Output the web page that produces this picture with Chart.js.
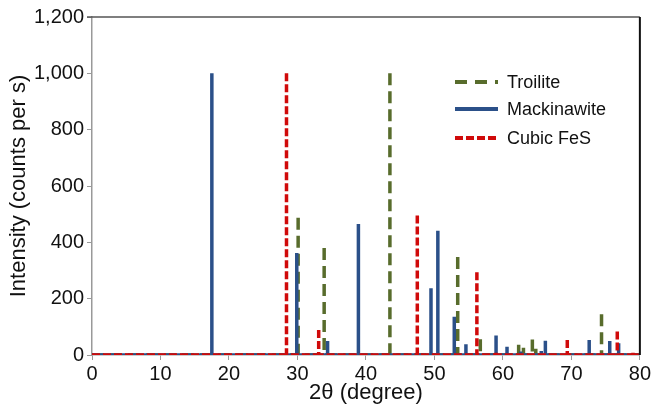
<!DOCTYPE html>
<html>
<head>
<meta charset="utf-8">
<script src="https://cdn.jsdelivr.net/npm/chart.js@4.4.0/dist/chart.umd.min.js"></script>
<style>
  html, body { margin: 0; padding: 0; background: #fff; }
  #wrap { width: 653px; height: 408px; }
</style>
</head>
<body>
<div id="wrap"><canvas id="xrd" width="653" height="408"></canvas></div>
<script>
// Reference stick patterns, 2theta (degree) and intensity (counts per s)
const troiliteTheta = [30.1, 33.9, 43.5, 53.4, 56.7, 62.3, 63.0, 64.3, 64.8, 74.4];
const troiliteIntensity = [487, 380, 1000, 348, 56, 36, 26, 55, 22, 145];

const mackinawiteTheta = [17.5, 29.9, 34.4, 38.9, 49.5, 50.5, 52.9, 54.6, 59.0, 60.6, 62.6, 65.6, 66.2, 72.6, 75.6, 76.9];
const mackinawiteIntensity = [1000, 362, 50, 465, 237, 441, 136, 38, 69, 29, 12, 14, 51, 53, 50, 42];

const cubicTheta = [28.4, 33.1, 47.5, 56.2, 59.0, 69.4, 76.7, 79.0];
const cubicIntensity = [1000, 89, 495, 294, 8, 53, 83, 8];

const thetaRange = [0, 80];
const xTicks = [0, 10, 20, 30, 40, 50, 60, 70, 80];
const yTicks = [0, 200, 400, 600, 800, 1000, 1200];

const seriesNames = ['Troilite', 'Mackinawite', 'Cubic FeS'];
const green = '#586c2c';
const blue = '#2b5089';
const red = '#d00a0a';

// turn a list of peaks into one continuous line: baseline, up to the peak, back down
function sticks(theta, intensity) {
    let pts = [{ x: thetaRange[0], y: 0 }];
    theta.forEach((t, i) => {
        pts.push({ x: t, y: 0 });
        pts.push({ x: t, y: intensity[i] });
        pts.push({ x: t, y: 0 });
    });
    pts.push({ x: thetaRange[1], y: 0 });
    return pts;
}

// the climb and the descent retrace each other; only stroke the descent so
// the dash pattern starts at the top of every stick
const onlyDown = {
    borderColor: ctx => ctx.p0.parsed.y < ctx.p1.parsed.y ? 'rgba(0,0,0,0)' : undefined
};

const lineDashes = [[12, 6], [], [8, 3]];
const legendDashes = [[12, 8, 12, 8, 3, 8], [], [8, 3]];
const colors = [green, blue, red];

// legend drawn by hand so the line samples keep their dash patterns
const legendLines = {
    id: 'legendLines',
    afterDraw(chart) {
        const ctx = chart.ctx;
        const rows = [82, 109, 138];
        ctx.save();
        seriesNames.forEach((name, i) => {
            ctx.beginPath();
            ctx.setLineDash(legendDashes[i]);
            ctx.lineWidth = 4;
            ctx.strokeStyle = colors[i];
            ctx.moveTo(455, rows[i]);
            ctx.lineTo(498, rows[i]);
            ctx.stroke();
            ctx.setLineDash([]);
            ctx.fillStyle = '#111';
            ctx.font = '18px "Liberation Sans", Arial, sans-serif';
            ctx.textBaseline = 'middle';
            ctx.fillText(name, 507, rows[i] + 1);
        });
        ctx.restore();
    }
};

// top and right edges of the plot frame
const frame = {
    id: 'frame',
    afterDraw(chart) {
        const a = chart.chartArea;
        const ctx = chart.ctx;
        ctx.save();
        ctx.lineWidth = 1.5;
        ctx.strokeStyle = '#555';
        ctx.beginPath();
        ctx.moveTo(a.left - 5, a.top);
        ctx.lineTo(a.right, a.top);
        ctx.stroke();
        ctx.lineWidth = 2;
        ctx.strokeStyle = '#111';
        ctx.beginPath();
        ctx.moveTo(a.right, a.top);
        ctx.lineTo(a.right, a.bottom);
        ctx.stroke();
        ctx.restore();
    }
};

const tickFont = { family: '"Liberation Sans", Arial, sans-serif', size: 20 };
const titleFont = { family: '"Liberation Sans", Arial, sans-serif', size: 22 };

let grafico = new Chart(document.getElementById('xrd'), {
    type: 'line',
    data: {
        datasets: [
            { label: seriesNames[0], data: sticks(troiliteTheta, troiliteIntensity), borderColor: green, borderDash: lineDashes[0], segment: onlyDown, order: 3 },
            { label: seriesNames[1], data: sticks(mackinawiteTheta, mackinawiteIntensity), borderColor: blue, borderDash: lineDashes[1], order: 2 },
            { label: seriesNames[2], data: sticks(cubicTheta, cubicIntensity), borderColor: red, borderDash: lineDashes[2], segment: onlyDown, order: 1 },
        ]
    },
    options: {
        responsive: false,
        animation: false,
        layout: { padding: { top: 17, right: 13, left: 0, bottom: 0 } },
        elements: {
            line: { borderWidth: 3.5, tension: 0, borderJoinStyle: 'bevel', borderCapStyle: 'butt', fill: false },
            point: { radius: 0, hoverRadius: 0 }
        },
        plugins: {
            legend: { display: false },
            tooltip: { enabled: false }
        },
        scales: {
            x: {
                type: 'linear',
                min: thetaRange[0],
                max: thetaRange[1],
                afterFit: s => { s.height = 53; },
                afterBuildTicks: s => { s.ticks = xTicks.map(v => ({ value: v })); },
                ticks: { color: '#111', font: tickFont, padding: 2, maxRotation: 0 },
                grid: { drawOnChartArea: false, drawTicks: true, tickLength: 5, color: '#999' },
                border: { color: '#999', width: 1.5 },
                title: { display: true, text: '2θ (degree)', color: '#111', font: titleFont, padding: { top: 0, bottom: 2 } }
            },
            y: {
                min: 0,
                max: 1200,
                afterFit: s => { s.width = 92; },
                afterBuildTicks: s => { s.ticks = yTicks.map(v => ({ value: v })); },
                ticks: { color: '#111', font: tickFont, padding: 3, callback: v => v.toLocaleString('en-US') },
                grid: { drawOnChartArea: false, drawTicks: true, tickLength: 5, color: '#999' },
                border: { color: '#999', width: 1.5 },
                title: { display: true, text: 'Intensity (counts per s)', color: '#111', font: titleFont, padding: { top: 6, bottom: 0 } }
            }
        }
    },
    plugins: [legendLines, frame]
});
</script>
</body>
</html>
